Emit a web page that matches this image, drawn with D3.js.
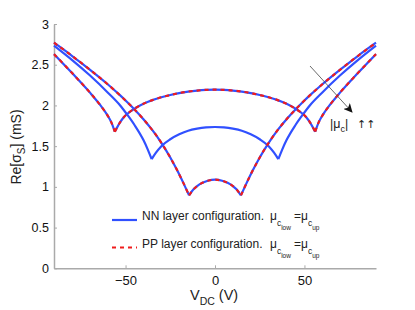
<!DOCTYPE html>
<html>
<head>
<meta charset="utf-8">
<script src="https://cdn.jsdelivr.net/npm/d3@7"></script>
<style>
  body { margin: 0; background: #fff; }
  svg { font-family: "Liberation Sans", Arial, sans-serif; }
</style>
</head>
<body>
<svg width="415" height="310"></svg>
<script>

// Re[sigma_S] (mS) against V_DC (V), three chemical potentials
var voltsLow = [-90, -80, -70, -60, -53, -49, -45, -40, -35, -30, -25, -21, -17.7, -14.5,
                -12, -10, -7, -4, 0, 4, 7, 10, 12,
                14.5, 17.7, 21, 25, 30, 35, 40, 45, 49, 53, 60, 70, 80, 90];
var sigmaLow = [2.77, 2.61, 2.44, 2.26, 2.123, 2.039, 1.951, 1.831, 1.696, 1.541, 1.361, 1.197, 1.049, 0.895,
                0.97, 1.01, 1.05, 1.075, 1.088, 1.075, 1.05, 1.01, 0.97,
                0.895, 1.049, 1.197, 1.361, 1.541, 1.696, 1.831, 1.951, 2.039, 2.123, 2.26, 2.44, 2.61, 2.77];
var cuspLow = 14.5;

var voltsMid = [-90, -80, -70, -60, -53, -49, -45, -40, -37.5, -35.4,
                -33, -30, -25, -20, -15, -10, -5, 0, 5, 10, 15, 20, 25, 30, 33,
                35.4, 37.5, 40, 45, 49, 53, 60, 70, 80, 90];
var sigmaMid = [2.735, 2.56, 2.37, 2.16, 2.0, 1.885, 1.76, 1.575, 1.455, 1.34,
                1.42, 1.50, 1.585, 1.645, 1.69, 1.715, 1.73, 1.735, 1.73, 1.715, 1.69, 1.645, 1.585, 1.50, 1.42,
                1.34, 1.455, 1.575, 1.76, 1.885, 2.0, 2.16, 2.37, 2.56, 2.735];
var cuspMid = 35.4;

var voltsHigh = [-90, -80, -70, -64, -60, -58, -56,
                 -53, -51, -48, -45, -40, -35, -30, -25, -20, -15, -10, -5, 0,
                 5, 10, 15, 20, 25, 30, 35, 40, 45, 48, 51, 53,
                 56, 58, 60, 64, 70, 80, 90];
var sigmaHigh = [2.63, 2.40, 2.16, 2.0, 1.875, 1.795, 1.677,
                 1.795, 1.855, 1.915, 1.96, 2.02, 2.065, 2.10, 2.128, 2.152, 2.17, 2.183, 2.191, 2.194,
                 2.191, 2.183, 2.17, 2.152, 2.128, 2.10, 2.065, 2.02, 1.96, 1.915, 1.855, 1.795,
                 1.677, 1.795, 1.875, 2.0, 2.16, 2.40, 2.63];
var cuspHigh = 56;

var yTicks = [0, 0.5, 1, 1.5, 2, 2.5, 3];
var xTicks = [-50, 0, 50];

var curves = [
  {v: voltsLow,  s: sigmaLow,  cusp: cuspLow,  pp: true},
  {v: voltsMid,  s: sigmaMid,  cusp: cuspMid,  pp: false},
  {v: voltsHigh, s: sigmaHigh, cusp: cuspHigh, pp: true}
];

var blue = "#3050ff", red = "#f01c1c", axisGray = "#aaaaaa";

var svg = d3.select("svg");

var x = d3.scaleLinear().domain([-90, 90]).range([54, 376]);
var y = d3.scaleLinear().domain([0, 3]).range([268.3, 24]);

// axes (left + bottom only, ticks pointing in)
var gy = svg.append("g")
    .attr("transform", "translate(54,0)")
    .call(d3.axisLeft(y).tickValues(yTicks).tickFormat(d3.format("")).tickSize(-3).tickSizeOuter(0).tickPadding(5));
var gx = svg.append("g")
    .attr("transform", "translate(0,268.3)")
    .call(d3.axisBottom(x).tickValues(xTicks).tickSize(-3).tickSizeOuter(0).tickPadding(7));

[gx, gy].forEach(function(g) {
  g.select(".domain").attr("stroke", axisGray).attr("stroke-width", 1.5);
  g.selectAll(".tick line").attr("stroke", axisGray).attr("stroke-width", 1);
  g.selectAll(".tick text").attr("font-size", 12.5).attr("fill", "#111")
    .attr("font-family", "Liberation Sans, Arial, sans-serif");
});
gx.selectAll(".tick text").attr("font-size", 13);

var line = d3.line()
    .x(function(d) { return x(d[0]); })
    .y(function(d) { return y(d[1]); })
    .curve(d3.curveMonotoneX);

// split each curve at its cusps so the kinks stay sharp
function segments(c) {
  var pts = c.v.map(function(v, i) { return [v, c.s[i]]; });
  return [
    pts.filter(function(p) { return p[0] <= -c.cusp; }),
    pts.filter(function(p) { return p[0] >= -c.cusp && p[0] <= c.cusp; }),
    pts.filter(function(p) { return p[0] >= c.cusp; })
  ];
}

var plot = svg.append("g").attr("fill", "none");

curves.forEach(function(c) {
  plot.selectAll(null)
    .data(segments(c))
    .enter().append("path")
      .attr("d", line)
      .attr("stroke", blue)
      .attr("stroke-width", 2.2);
});

curves.filter(function(c) { return c.pp; }).forEach(function(c) {
  plot.selectAll(null)
    .data(segments(c))
    .enter().append("path")
      .attr("d", line)
      .attr("stroke", red)
      .attr("stroke-width", 2.2)
      .attr("stroke-dasharray", "4,4");
});

// arrow with |mu_c| label
svg.append("defs").append("marker")
    .attr("id", "head")
    .attr("viewBox", "0 0 10 10")
    .attr("refX", 9).attr("refY", 5)
    .attr("markerWidth", 9).attr("markerHeight", 9)
    .attr("markerUnits", "userSpaceOnUse")
    .attr("orient", "auto")
  .append("path")
    .attr("d", "M0,0L10,5L0,10L2.5,5Z")
    .attr("fill", "#111");

svg.append("line")
    .attr("x1", 310).attr("y1", 66)
    .attr("x2", 352).attr("y2", 112)
    .attr("stroke", "#444")
    .attr("stroke-width", 0.8)
    .attr("marker-end", "url(#head)");

var lab = svg.append("text")
    .attr("x", 330).attr("y", 128)
    .attr("font-size", 12.5).attr("fill", "#222");
lab.append("tspan").text("|μ");
lab.append("tspan").attr("font-size", 9).attr("dy", 4).text("c");
lab.append("tspan").attr("dy", -4).text("|");
lab.append("tspan").attr("x", 357).attr("font-family", "DejaVu Sans").attr("font-size", 11).text("↑↑");

// legend
var legend = [
  {name: "NN layer configuration.", color: blue, dash: null, yy: 220},
  {name: "PP layer configuration.", color: red, dash: "4,4", yy: 247.5}
];

legend.forEach(function(d) {
  svg.append("line")
      .attr("x1", 112).attr("x2", 137)
      .attr("y1", d.yy).attr("y2", d.yy)
      .attr("stroke", d.color)
      .attr("stroke-width", 2.2)
      .attr("stroke-dasharray", d.dash);
  var t = svg.append("text")
      .attr("x", 142).attr("y", d.yy)
      .attr("font-size", 12).attr("fill", "#222");
  t.append("tspan").text(d.name);
  t.append("tspan").attr("x", 270).text("μ");
  t.append("tspan").attr("font-size", 8.5).attr("dy", 6).text("c");
  t.append("tspan").attr("font-size", 6.5).attr("dy", 4).text("low");
  t.append("tspan").attr("x", 294).attr("dy", -10).text("=μ");
  t.append("tspan").attr("font-size", 8.5).attr("dy", 6).text("c");
  t.append("tspan").attr("font-size", 6.5).attr("dy", 4).text("up");
});

// axis titles
var xl = svg.append("text")
    .attr("x", 190).attr("y", 300)
    .attr("font-size", 14.5).attr("fill", "#222");
xl.append("tspan").text("V");
xl.append("tspan").attr("font-size", 10.5).attr("dy", 5).text("DC");
xl.append("tspan").attr("dy", -5).text(" (V)");

var yl = svg.append("text")
    .attr("transform", "translate(21,147) rotate(-90)")
    .attr("text-anchor", "middle")
    .attr("font-size", 14).attr("fill", "#222");
yl.append("tspan").text("Re[σ");
yl.append("tspan").attr("font-size", 10).attr("dy", 4).text("S");
yl.append("tspan").attr("dy", -4).text("] (mS)");

</script>
</body>
</html>
